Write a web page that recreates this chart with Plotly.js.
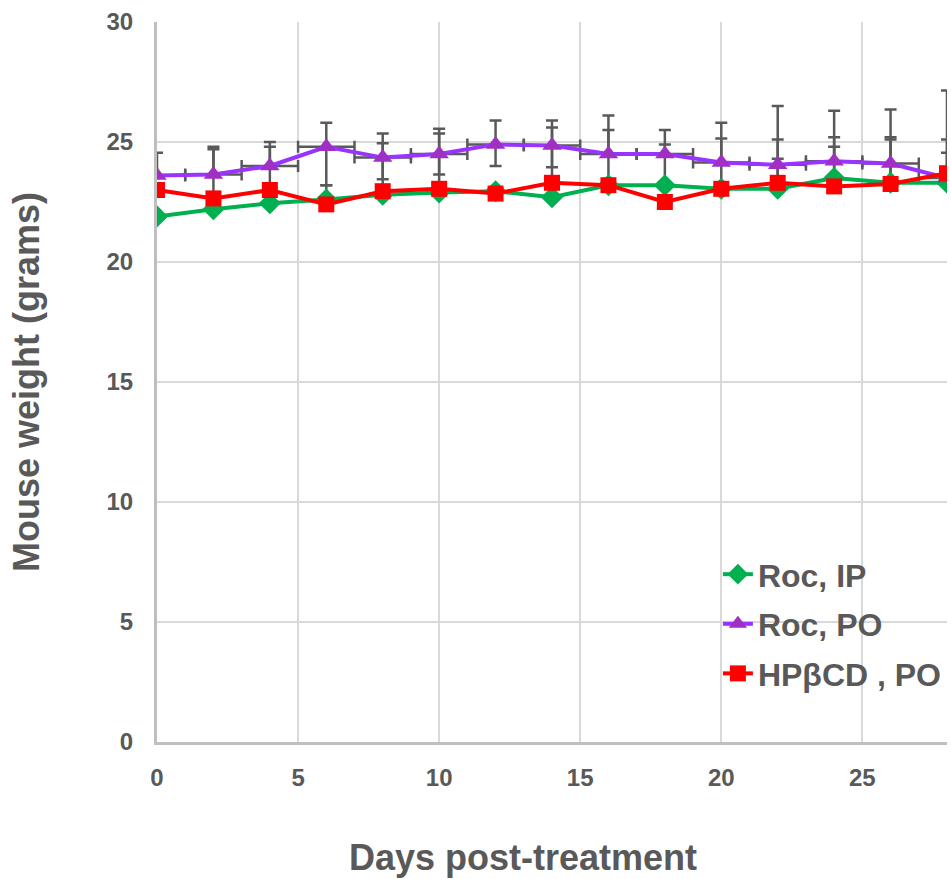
<!DOCTYPE html>
<html>
<head>
<meta charset="utf-8">
<script src="https://cdn.plot.ly/plotly-3.0.1.min.js"></script>
<style>html,body{margin:0;padding:0;background:#fff;}#chart{width:951px;height:879px;}</style>
</head>
<body>
<div id="chart"></div>
<script>
const days = [0, 2, 4, 6, 8, 10, 12, 14, 16, 18, 20, 22, 24, 26, 28];
const rocIP = [21.9, 22.2, 22.45, 22.6, 22.8, 22.9, 22.95, 22.7, 23.2, 23.2, 23.05, 23.05, 23.5, 23.3, 23.3];
const rocPO = [23.6, 23.65, 24.0, 24.8, 24.35, 24.5, 24.9, 24.85, 24.5, 24.5, 24.15, 24.05, 24.2, 24.1, 23.5];
const hpbcd = [23.0, 22.65, 23.0, 22.4, 22.95, 23.05, 22.85, 23.3, 23.2, 22.5, 23.05, 23.3, 23.15, 23.25, 23.7];

const rocIPErrPlus = [0, 0, 0, 0, 0, 0, 0, 0, 0, 0, 0, 1.25, 1.3, 1.8, 1.25];
const rocPOErrPlus = [0.95, 1.15, 1.0, 1.0, 1.0, 1.05, 1.0, 1.05, 1.6, 1.0, 1.65, 2.45, 2.1, 2.25, 3.65];
const rocPOErrMinus = [0, 0, 0, 1.6, 0.9, 0.85, 0.9, 0.9, 0, 0, 0, 0, 0, 0, 0];
const rocPOErrX = [1, 1, 1, 1, 1, 1, 1, 1, 1, 1, 1, 1, 1, 1, 1];
const hpbcdErrPlus = [0, 2.05, 1.8, 0.8, 2.0, 2.3, 0, 2.3, 2.3, 2.4, 2.1, 1.8, 2.05, 1.95, 1.4];

const names = ['Roc, IP', 'Roc, PO', 'HPβCD , PO'];
const xTitle = 'Days post-treatment';
const yTitle = 'Mouse weight (grams)';
const errColor = '#595959';
const zeros = days.map(() => 0);

function errTrace(y, plus, minus, xerr) {
  const t = {
    x: days, y: y, type: 'scatter', mode: 'markers',
    marker: {color: 'rgba(0,0,0,0)', size: 1},
    showlegend: false, hoverinfo: 'skip',
    error_y: {type: 'data', symmetric: false, array: plus, arrayminus: minus,
              color: errColor, thickness: 2.5, width: 6}
  };
  if (xerr) {
    t.error_x = {type: 'data', array: xerr, color: errColor, thickness: 2.5, width: 6};
  }
  return t;
}

const data = [
  errTrace(rocPO, rocPOErrPlus, rocPOErrMinus, rocPOErrX),
  errTrace(hpbcd, hpbcdErrPlus, zeros, null),
  errTrace(rocIP, rocIPErrPlus, zeros, null),
  {x: days, y: rocIP, name: names[0], legendgroup: 'a', type: 'scatter', mode: 'lines+markers',
   line: {color: '#00b050', width: 4},
   marker: {symbol: 'diamond', size: 17, color: '#00b050'}},
  {x: days, y: rocPO, name: names[1], legendgroup: 'b', type: 'scatter', mode: 'lines+markers',
   line: {color: '#9933ff', width: 4},
   marker: {symbol: 'triangle-up', size: 17, color: '#a02fc4'}},
  {x: days, y: hpbcd, name: names[2], legendgroup: 'c', type: 'scatter', mode: 'lines+markers',
   line: {color: '#ff0000', width: 4},
   marker: {symbol: 'square', size: 16, color: '#ff0000'}}
];

const fam = 'Liberation Sans, Arial, sans-serif';
const tickFont = {family: fam, size: 24, color: '#595959', weight: 'bold'};
const titleFont = {family: fam, size: 36, color: '#595959', weight: 'bold'};

const layout = {
  width: 951, height: 879,
  margin: {l: 157, r: 4, t: 22, b: 137},
  paper_bgcolor: '#ffffff', plot_bgcolor: '#ffffff',
  showlegend: true,
  legend: {x: 0.710, y: 0.271, xanchor: 'left', yanchor: 'top',
           bgcolor: 'rgba(255,255,255,0)', traceorder: 'grouped',
           font: {family: fam, size: 32, color: '#595959', weight: 'bold'},
           tracegroupgap: 5},
  xaxis: {
    range: [0, 28], tickvals: [0, 5, 10, 15, 20, 25], ticktext: ['0', '5', '10', '15', '20', '25'],
    showgrid: true, gridcolor: '#d9d9d9', gridwidth: 2,
    showline: true, linecolor: '#bfbfbf', linewidth: 3,
    zeroline: false, ticks: '', tickfont: tickFont, ticklabelstandoff: 12
  },
  yaxis: {
    range: [0, 30], tickvals: [0, 5, 10, 15, 20, 25, 30],
    showgrid: true, gridcolor: '#d9d9d9', gridwidth: 2,
    showline: true, linecolor: '#bfbfbf', linewidth: 3,
    zeroline: false, ticks: '', tickfont: tickFont, ticklabelstandoff: 16,
    title: {text: yTitle, font: titleFont, standoff: 56}
  },
  annotations: [{
    text: xTitle, font: titleFont, showarrow: false,
    xref: 'paper', yref: 'paper', x: 0.4633, y: -0.161,
    xanchor: 'center', yanchor: 'middle'
  }]
};

Plotly.newPlot('chart', data, layout, {displayModeBar: false, staticPlot: true});
</script>
</body>
</html>
